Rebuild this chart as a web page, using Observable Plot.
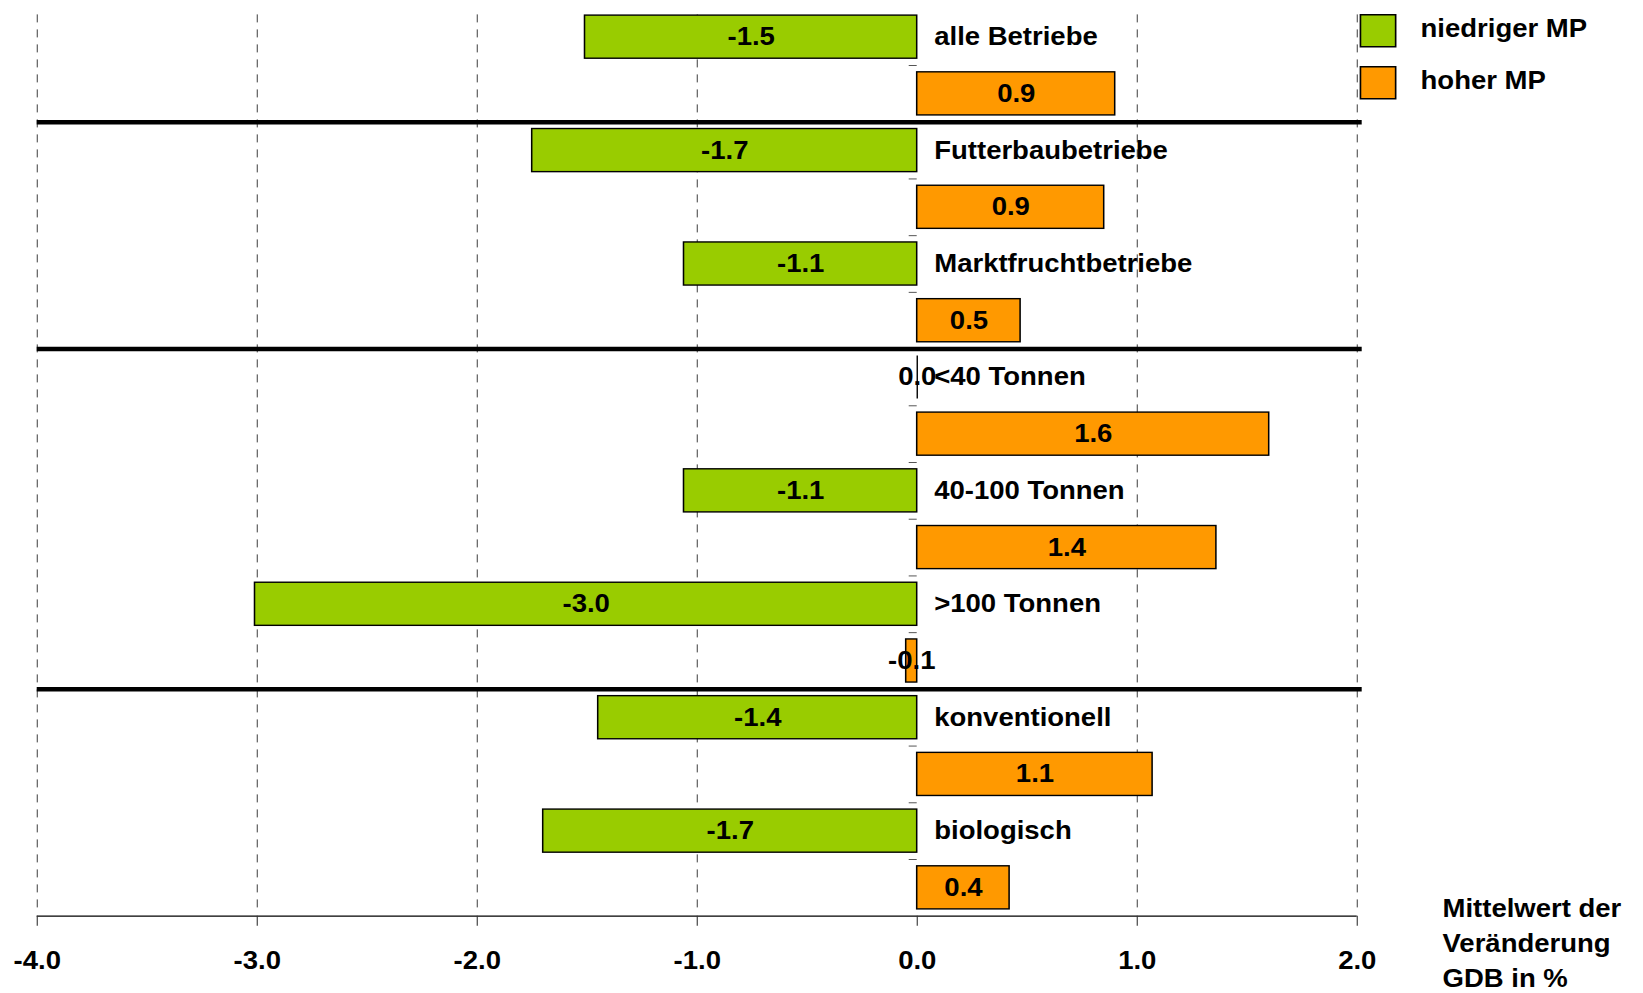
<!DOCTYPE html>
<html>
<head>
<meta charset="utf-8">
<script src="https://cdn.jsdelivr.net/npm/d3@7"></script>
<script src="https://cdn.jsdelivr.net/npm/@observablehq/plot@0.6"></script>
<style>
  html, body { margin: 0; padding: 0; background: #fff; }
  #chart { width: 1643px; height: 993px; overflow: hidden; }
</style>
</head>
<body>
<div id="chart"></div>
<script>
// ---- data ----
const groups = ["alle Betriebe", "Futterbaubetriebe", "Marktfruchtbetriebe", "<40 Tonnen", "40-100 Tonnen", ">100 Tonnen", "konventionell", "biologisch"];
const seriesNames = ["niedriger MP", "hoher MP"];
const niedrigValues = [-1.51, -1.75, -1.06, 0.0, -1.06, -3.01, -1.45, -1.70];
const hochValues = [0.90, 0.85, 0.47, 1.60, 1.36, -0.05, 1.07, 0.42];
const niedrigLabels = ["-1.5", "-1.7", "-1.1", "0.0", "-1.1", "-3.0", "-1.4", "-1.7"];
const hochLabels = ["0.9", "0.9", "0.5", "1.6", "1.4", "-0.1", "1.1", "0.4"];
const separatorsAfter = ["alle Betriebe", "Marktfruchtbetriebe", ">100 Tonnen"];
const xTicks = [-4, -3, -2, -1, 0, 1, 2];
const xTickLabels = ["-4.0", "-3.0", "-2.0", "-1.0", "0.0", "1.0", "2.0"];
const colors = ["#99CC00", "#FF9900"];
const axisTitle = "Mittelwert der\nVeränderung\nGDB in %";

// ---- layout ----
const W = 1643, H = 993;
const SX = 1.1;               // horizontal stretch of the whole drawing
const W0 = W / SX;
const FS = 25;

const rows = groups.flatMap((g, i) => [
  {group: g, series: seriesNames[0], row: 2 * i, value: niedrigValues[i], label: niedrigLabels[i]},
  {group: g, series: seriesNames[1], row: 2 * i + 1, value: hochValues[i], label: hochLabels[i]}
]);
const nRows = rows.length;
const sepRows = separatorsAfter.map(g => 2 * (groups.indexOf(g) + 1));
const boundaries = d3.range(1, nRows);

const chart = Plot.plot({
  width: W0,
  height: H,
  marginLeft: 36.7 / SX,
  marginRight: W0 - 1356.7 / SX,
  marginTop: 8.3,
  marginBottom: H - 915.7,
  x: {domain: [-4, 2], axis: null},
  y: {domain: [nRows, 0], axis: null},
  color: {domain: seriesNames, range: colors},
  style: {
    fontFamily: "'Liberation Sans', Arial, Helvetica, sans-serif",
    fontWeight: "bold",
    background: "white",
    color: "black",
    overflow: "visible"
  },
  marks: [
    // dashed vertical gridlines
    Plot.ruleX(xTicks.filter(t => t !== 0), {
      y1: nRows, y2: 0, insetTop: -8.3,
      stroke: "#333", strokeWidth: 1 / SX, strokeDasharray: "8,7"
    }),
    // bars
    Plot.rect(rows.filter(d => d.value !== 0), {
      x1: 0, x2: "value",
      y1: d => d.row + 0.12, y2: d => d.row + 0.88,
      fill: "series", stroke: "black", strokeWidth: 1.4
    }),
    // zero-valued bars show as a line
    Plot.ruleX(rows.filter(d => d.value === 0), {
      x: "value", y1: d => d.row + 0.12, y2: d => d.row + 0.88,
      stroke: "black", strokeWidth: 1.4 / SX
    }),
    // category tick marks at x = 0
    Plot.ruleY(boundaries, {x1: -8 / 220, x2: 0, stroke: "#555", strokeWidth: 1}),
    // group separators
    Plot.ruleY(sepRows, {x1: -4, x2: 2 + 5 / 220, stroke: "black", strokeWidth: 4.5}),
    // x axis line
    Plot.ruleY([nRows], {x1: -4, x2: 2, stroke: "black", strokeWidth: 1.3}),
    Plot.axisX({
      ticks: xTicks,
      tickFormat: d => xTickLabels[xTicks.indexOf(d)],
      tickSize: 10,
      tickPadding: 25,
      fontSize: FS,
      stroke: "#333",
      label: null
    }),
    // value labels
    Plot.text(rows, {
      x: d => d.value / 2, y: d => d.row + 0.5,
      text: "label", fontSize: FS, fill: "black"
    }),
    // category labels
    Plot.text(groups, {
      x: 0, y: (d, i) => 2 * i + 0.5,
      text: d => d, textAnchor: "start", dx: 17 / SX, fontSize: FS, fill: "black"
    }),
    // legend
    ...seriesNames.map((name, i) => Plot.dot([name], {
      frameAnchor: "top-right", dx: 20.8 / SX, dy: 22 + 52 * i,
      symbol: "square", r: 32 / Math.sqrt(Math.PI),
      fill: d => d, stroke: "black", strokeWidth: 1.5
    })),
    ...seriesNames.map((name, i) => Plot.text([name], {
      frameAnchor: "top-right", dx: 63.3 / SX, dy: 20 + 52.5 * i,
      text: d => d, textAnchor: "start", lineAnchor: "middle", fontSize: FS, fill: "black"
    })),
    // axis title
    Plot.text([axisTitle], {
      frameAnchor: "bottom-right", dx: (1442 - 1356.7) / SX, dy: -24,
      text: d => d, textAnchor: "start", lineAnchor: "top",
      lineHeight: 35 / FS, fontSize: FS, fill: "black"
    })
  ]
});

chart.setAttribute("width", W);
chart.setAttribute("height", H);
chart.setAttribute("preserveAspectRatio", "none");
chart.style.width = W + "px";
chart.style.height = H + "px";
chart.style.maxWidth = "none";
document.getElementById("chart").appendChild(chart);
</script>
</body>
</html>
